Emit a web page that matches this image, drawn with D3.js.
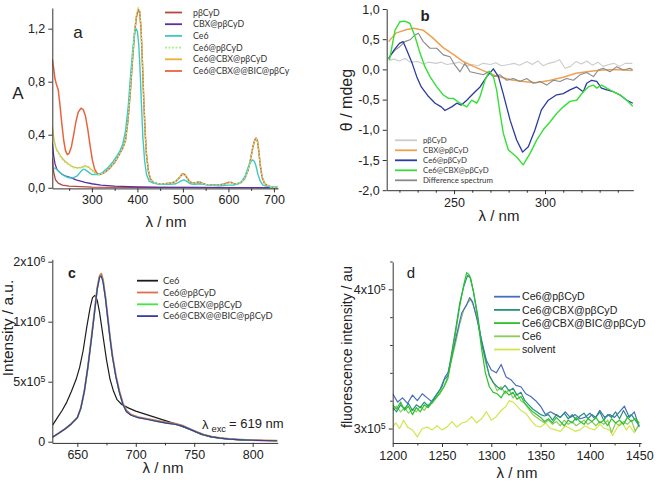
<!DOCTYPE html>
<html><head><meta charset="utf-8">
<script src="https://cdn.jsdelivr.net/npm/d3@7"></script>
<style>body{margin:0;background:#fff} svg{display:block}</style>
</head><body>
<svg id="c" width="661" height="484"></svg>
<script>
// ---------- Panel a: absorption (A vs nm) ----------
const aXTicks = [300, 400, 500, 600, 700];
const aXMinor = [250, 350, 450, 550, 650];
const aYTicks = [0, 0.4, 0.8, 1.2];
const aYLabels = ["0,0", "0,4", "0,8", "1,2"];
const aNames = ["pβCyD", "CBX@pβCyD", "Ce6", "Ce6@pβCyD", "Ce6@CBX@pβCyD", "Ce6@CBX@@BIC@pβCy"];
const aPbCyD = [[213,0.22],[216,0.12],[220,0.06],[226,0.035],[235,0.02],[250,0.012],[300,0.005],[400,0.002],[709,0.0]];
const aCBX = [[213,0.34],[216,0.24],[219,0.18],[223,0.14],[228,0.12],[235,0.10],[245,0.085],[255,0.075],[265,0.06],[275,0.05],[285,0.04],[300,0.03],[320,0.02],[350,0.012],[400,0.006],[450,0.003],[500,0.002],[600,0.001],[709,0.0]];
const aCe6 = [[213,0.15],[217,0.15],[222,0.14],[228,0.12],[235,0.10],[242,0.085],[250,0.075],[256,0.072],[262,0.08],[268,0.09],[275,0.12],[281,0.14],[286,0.135],[292,0.12],[300,0.10],[308,0.10],[316,0.10],[325,0.12],[335,0.15],[345,0.19],[355,0.24],[362,0.28],[368,0.33],[374,0.43],[380,0.62],[385,0.85],[390,1.05],[394,1.17],[397,1.20],[400,1.18],[403,1.08],[406,0.88],[409,0.62],[412,0.38],[416,0.2],[420,0.1],[426,0.05],[435,0.035],[450,0.025],[470,0.025],[485,0.03],[495,0.05],[502,0.06],[508,0.05],[516,0.03],[525,0.025],[535,0.03],[545,0.025],[560,0.02],[580,0.015],[600,0.02],[612,0.02],[622,0.03],[630,0.05],[637,0.09],[643,0.15],[648,0.19],[653,0.21],[657,0.20],[661,0.16],[665,0.1],[670,0.05],[676,0.02],[685,0.01],[700,0.005],[709,0.003]];
const aCe6PbCyD = [[213,0.44],[217,0.35],[221,0.29],[226,0.26],[233,0.22],[241,0.19],[250,0.17],[260,0.15],[270,0.145],[278,0.15],[285,0.16],[291,0.155],[298,0.135],[305,0.115],[312,0.10],[318,0.10],[330,0.12],[340,0.15],[350,0.19],[360,0.25],[368,0.30],[374,0.36],[379,0.5],[384,0.72],[389,0.97],[394,1.19],[398,1.31],[402,1.36],[405,1.34],[408,1.21],[411,0.96],[414,0.67],[417,0.42],[420,0.25],[424,0.13],[428,0.07],[435,0.04],[445,0.03],[460,0.03],[475,0.035],[485,0.05],[493,0.08],[499,0.10],[504,0.10],[509,0.075],[515,0.045],[522,0.035],[530,0.04],[536,0.045],[542,0.035],[550,0.025],[565,0.02],[580,0.02],[592,0.03],[600,0.04],[606,0.04],[612,0.03],[620,0.03],[628,0.04],[636,0.07],[643,0.13],[649,0.22],[654,0.31],[658,0.36],[661,0.37],[664,0.35],[667,0.27],[670,0.17],[674,0.08],[679,0.035],[686,0.015],[695,0.005],[709,0.003]];
const aCe6CBX = [[213,0.46],[217,0.36],[221,0.30],[226,0.27],[233,0.23],[241,0.20],[250,0.175],[260,0.155],[270,0.15],[278,0.155],[285,0.165],[291,0.16],[298,0.14],[305,0.12],[312,0.105],[318,0.10],[330,0.12],[340,0.15],[350,0.19],[360,0.25],[368,0.30],[374,0.36],[379,0.5],[384,0.71],[389,0.96],[394,1.18],[398,1.30],[402,1.35],[405,1.33],[408,1.20],[411,0.95],[414,0.66],[417,0.42],[420,0.25],[424,0.13],[428,0.07],[435,0.04],[445,0.03],[460,0.03],[475,0.035],[485,0.05],[493,0.08],[499,0.10],[504,0.10],[509,0.075],[515,0.045],[522,0.035],[530,0.04],[536,0.045],[542,0.035],[550,0.025],[565,0.02],[580,0.02],[592,0.03],[600,0.04],[606,0.04],[612,0.03],[620,0.03],[628,0.04],[636,0.07],[643,0.13],[649,0.22],[654,0.31],[658,0.36],[661,0.37],[664,0.35],[667,0.27],[670,0.17],[674,0.08],[679,0.035],[686,0.015],[695,0.005],[709,0.003]];
const aBIC = [[213,0.97],[216,0.90],[219,0.82],[222,0.78],[226,0.74],[230,0.62],[234,0.48],[238,0.36],[242,0.28],[246,0.25],[250,0.26],[255,0.31],[260,0.40],[265,0.50],[270,0.57],[276,0.60],[281,0.59],[286,0.54],[291,0.44],[296,0.32],[301,0.21],[306,0.14],[311,0.11],[316,0.10],[322,0.105],[330,0.12],[340,0.15],[350,0.19],[360,0.25],[368,0.30],[374,0.36],[379,0.5],[384,0.70],[389,0.95],[394,1.17],[398,1.29],[402,1.34],[405,1.33],[408,1.20],[411,0.95],[414,0.66],[417,0.42],[420,0.25],[424,0.13],[428,0.07],[435,0.04],[445,0.03],[460,0.03],[475,0.035],[485,0.05],[493,0.08],[499,0.105],[504,0.10],[509,0.075],[515,0.045],[522,0.035],[530,0.04],[536,0.045],[542,0.035],[550,0.025],[565,0.02],[580,0.02],[592,0.03],[600,0.04],[606,0.04],[612,0.03],[620,0.03],[628,0.04],[636,0.07],[643,0.13],[649,0.22],[654,0.31],[658,0.36],[661,0.375],[664,0.35],[667,0.27],[670,0.17],[674,0.08],[679,0.035],[686,0.015],[695,0.005],[709,0.003]];

// ---------- Panel b: CD (theta / mdeg vs nm) ----------
const bXTicks = [250, 300];
const bXMinor = [220, 230, 240, 260, 270, 280, 290, 310, 320, 330, 340];
const bYTicks = [1, 0.5, 0, -0.5, -1, -1.5, -2];
const bYLabels = ["1,0", "0,5", "0,0", "-0,5", "-1,0", "-1,5", "-2,0"];
const bNames = ["pβCyD", "CBX@pβCyD", "Ce6@pβCyD", "Ce6@CBX@pβCyD", "Difference spectrum"];
const bPbCyD = [[214,0.15],[217,0.17],[220,0.14],[223,0.18],[226,0.12],[230,0.13],[233,0.09],[236,0.12],[240,0.10],[243,0.12],[246,0.08],[250,0.10],[253,0.12],[257,0.05],[260,0.08],[263,0.06],[266,0.10],[270,0.08],[273,0.11],[276,0.06],[280,0.08],[283,0.10],[286,0.07],[290,0.13],[293,0.08],[296,0.14],[299,0.06],[302,0.10],[305,0.12],[308,0.16],[311,0.02],[314,0.05],[317,0.13],[320,0.09],[323,0.14],[326,0.07],[329,0.12],[332,0.05],[335,0.08],[338,0.10],[341,0.05],[344,0.10],[348,0.10]];
const bCBX = [[214,0.46],[218,0.60],[224,0.66],[228,0.68],[233,0.65],[238,0.53],[244,0.36],[250,0.24],[255,0.13],[261,0.045],[266,-0.02],[273,-0.11],[281,-0.17],[288,-0.2],[295,-0.22],[303,-0.18],[310,-0.13],[317,-0.065],[325,-0.03],[332,-0.01],[339,0.0],[348,-0.02]];
const bCe6 = [[214,0.18],[217,0.32],[220,0.43],[222,0.46],[224,0.32],[227,0.10],[229.5,-0.12],[232,-0.29],[236,-0.45],[239.6,-0.56],[243,-0.62],[245,-0.68],[248.7,-0.62],[251.5,-0.56],[254,-0.59],[257,-0.51],[260.6,-0.40],[264.3,-0.29],[268,-0.12],[271.6,0.01],[274.4,-0.12],[277,-0.40],[280.8,-0.84],[284.4,-1.17],[287.7,-1.37],[290.8,-1.28],[294.5,-1.0],[298,-0.67],[301.8,-0.51],[306.4,-0.42],[310,-0.40],[313.7,-0.34],[317.4,-0.29],[321,-0.37],[322.9,-0.23],[325.6,-0.18],[328.4,-0.2],[331,-0.31],[334,-0.34],[337.5,-0.37],[341,-0.42],[345,-0.51],[348.2,-0.56]];
const bCe6CBX = [[214.5,0.155],[217.6,0.65],[220.3,0.79],[223,0.8],[225.8,0.76],[228.6,0.54],[231.3,0.27],[234,0.045],[236.8,-0.12],[240.5,-0.29],[244,-0.42],[247,-0.48],[249.6,-0.48],[253.3,-0.56],[257,-0.62],[259.7,-0.51],[262.5,-0.56],[264.3,-0.45],[267,-0.18],[269.4,-0.03],[271.6,-0.12],[273.4,-0.34],[275.3,-0.73],[277.1,-1.06],[279.8,-1.33],[284.4,-1.45],[288,-1.58],[291.8,-1.39],[295.4,-1.17],[299,-1.0],[302.7,-0.87],[306.4,-0.73],[310,-0.62],[313.7,-0.53],[317.4,-0.51],[321,-0.37],[323.8,-0.29],[326.6,-0.26],[328.4,-0.31],[331.1,-0.26],[333.9,-0.31],[337.5,-0.37],[341.2,-0.42],[344.9,-0.51],[348.2,-0.61]];
const bDiff = [[214.5,0.21],[217.6,0.32],[220.3,0.38],[223,0.46],[225.8,0.49],[228.6,0.57],[230.4,0.6],[233.1,0.46],[236.8,0.35],[240.5,0.35],[244.1,0.24],[247.8,0.21],[250.5,0.07],[253.3,-0.04],[256,0.10],[258.8,-0.04],[262.5,-0.065],[266.1,-0.09],[268.9,-0.04],[271.6,-0.12],[275.3,-0.09],[278.9,-0.18],[282.6,-0.15],[286.3,-0.2],[289.9,-0.15],[293.6,-0.23],[297.3,-0.2],[300.9,-0.26],[304.6,-0.18],[308.2,-0.2],[311.9,-0.15],[315.6,-0.18],[319.2,-0.09],[322.9,-0.05],[326.6,-0.12],[329.3,-0.01],[332,0.02],[335.7,-0.04],[339.4,0.045],[343,-0.01],[346.7,0.02],[348.2,-0.01]];

// ---------- Panel c: fluorescence (units of 10^6) ----------
const cXTicks = [650, 700, 750, 800];
const cXMinor = [675, 725, 775];
const cYTicks = [0, 0.5, 1.0, 1.5];
const cYLabels = ["0", "5x10^5", "1x10^6", "2x10^6"];
const cNames = ["Ce6", "Ce6@pβCyD", "Ce6@CBX@pβCyD", "Ce6@CBX@@BIC@pβCyD"];
const cCe6 = [[629,0.14],[633,0.2],[637,0.26],[641,0.33],[645,0.42],[649,0.52],[652,0.62],[655,0.76],[658,0.95],[661,1.12],[663,1.2],[665,1.22],[667,1.18],[669,1.08],[672,0.88],[675,0.68],[678,0.52],[681,0.42],[684,0.35],[688,0.31],[694,0.28],[700,0.255],[708,0.23],[716,0.205],[724,0.18],[732,0.155],[740,0.125],[748,0.095],[756,0.06],[764,0.04],[772,0.03],[780,0.022],[790,0.016],[800,0.012],[810,0.01],[821,0.008]];
const cCe6PbCyD = [[629,0.04],[634,0.07],[640,0.11],[645,0.15],[650,0.2],[653,0.28],[656,0.42],[659,0.62],[662,0.86],[665,1.11],[667,1.28],[669,1.38],[670.5,1.40],[672,1.35],[674,1.21],[676,1.04],[678,0.87],[680,0.72],[683,0.55],[686,0.42],[689,0.32],[692,0.26],[696,0.225],[702,0.205],[710,0.19],[718,0.175],[726,0.16],[734,0.15],[740,0.135],[746,0.108],[752,0.082],[758,0.06],[765,0.042],[772,0.031],[780,0.023],[790,0.017],[800,0.013],[810,0.01],[821,0.008]];
const cCe6CBX = [[629,0.04],[634,0.07],[640,0.11],[645,0.15],[650,0.2],[653,0.28],[656,0.42],[659,0.62],[662,0.85],[665,1.1],[667,1.27],[669,1.37],[670.5,1.385],[672,1.34],[674,1.2],[676,1.03],[678,0.86],[680,0.71],[683,0.54],[686,0.41],[689,0.31],[692,0.25],[696,0.22],[702,0.2],[710,0.185],[718,0.17],[726,0.155],[734,0.145],[740,0.13],[746,0.105],[752,0.08],[758,0.058],[765,0.04],[772,0.03],[780,0.022],[790,0.016],[800,0.012],[810,0.01],[821,0.008]];
const cBIC = [[629,0.04],[634,0.07],[640,0.11],[645,0.15],[650,0.2],[653,0.28],[656,0.42],[659,0.62],[662,0.85],[665,1.1],[667,1.27],[669,1.37],[670.5,1.38],[672,1.33],[674,1.2],[676,1.03],[678,0.86],[680,0.71],[683,0.54],[686,0.41],[689,0.31],[692,0.25],[696,0.22],[702,0.2],[710,0.185],[718,0.17],[726,0.155],[734,0.145],[740,0.13],[746,0.105],[752,0.08],[758,0.058],[765,0.04],[772,0.03],[780,0.022],[790,0.016],[800,0.012],[810,0.01],[821,0.008]];

// ---------- Panel d: singlet oxygen emission (units of 10^5) ----------
const dXTicks = [1200, 1250, 1300, 1350, 1400, 1450];
const dXMinor = [1225, 1275, 1325, 1375, 1425];
const dYTicks = [3, 4];
const dYMinor = [3.2, 3.4, 3.6, 3.8, 4.2];
const dYLabels = ["3x10^5", "4x10^5"];
const dNames = ["Ce6@pβCyD", "Ce6@CBX@pβCyD", "Ce6@CBX@BIC@pβCyD", "Ce6", "solvent"];
const dCe6PbCyD = [[1200,3.25],[1205,3.19],[1210,3.22],[1215,3.18],[1220,3.24],[1225,3.2],[1230,3.25],[1235,3.22],[1240,3.19],[1245,3.25],[1250,3.3],[1253,3.37],[1256,3.4],[1260,3.52],[1265,3.68],[1270,3.83],[1275,3.89],[1278,3.94],[1281,3.91],[1285,3.8],[1290,3.64],[1295,3.49],[1300,3.42],[1305,3.4],[1310,3.46],[1315,3.37],[1320,3.35],[1325,3.31],[1330,3.3],[1335,3.25],[1340,3.23],[1345,3.2],[1350,3.16],[1355,3.1],[1360,3.12],[1365,3.1],[1370,3.08],[1375,3.12],[1380,3.08],[1385,3.1],[1390,3.07],[1395,3.08],[1400,3.11],[1405,3.07],[1410,3.13],[1415,3.08],[1420,3.1],[1425,3.08],[1430,3.12],[1435,3.16],[1440,3.08],[1445,3.12],[1450,3.01]];
const dCe6CBX = [[1200,3.15],[1204,3.12],[1208,3.17],[1212,3.14],[1216,3.18],[1220,3.13],[1224,3.17],[1228,3.15],[1232,3.19],[1236,3.16],[1240,3.2],[1244,3.24],[1248,3.28],[1252,3.35],[1256,3.38],[1260,3.55],[1264,3.72],[1268,3.9],[1272,4.02],[1276,4.1],[1279,4.08],[1282,3.98],[1286,3.82],[1290,3.62],[1294,3.5],[1298,3.38],[1302,3.33],[1306,3.3],[1310,3.28],[1314,3.31],[1318,3.27],[1322,3.29],[1326,3.24],[1330,3.26],[1334,3.2],[1338,3.17],[1342,3.14],[1346,3.12],[1350,3.1],[1354,3.09],[1358,3.1],[1362,3.06],[1366,3.1],[1370,3.08],[1374,3.11],[1378,3.07],[1382,3.1],[1386,3.06],[1390,3.09],[1394,3.11],[1398,3.07],[1402,3.1],[1406,3.08],[1410,3.12],[1414,3.06],[1418,3.1],[1422,3.08],[1426,3.12],[1430,3.07],[1434,3.13],[1438,3.08],[1442,3.1],[1446,3.06],[1450,3.02]];
const dBIC = [[1200,3.17],[1204,3.14],[1208,3.19],[1212,3.13],[1216,3.16],[1220,3.1],[1224,3.15],[1228,3.12],[1232,3.17],[1236,3.15],[1240,3.19],[1244,3.22],[1248,3.26],[1252,3.3],[1256,3.36],[1260,3.52],[1264,3.7],[1268,3.88],[1272,4.03],[1275,4.12],[1278,4.1],[1282,3.98],[1286,3.8],[1290,3.58],[1294,3.4],[1298,3.3],[1302,3.26],[1306,3.25],[1310,3.22],[1314,3.27],[1318,3.24],[1322,3.26],[1326,3.21],[1330,3.23],[1334,3.18],[1338,3.15],[1342,3.12],[1346,3.1],[1350,3.08],[1354,3.05],[1358,3.07],[1362,3.04],[1366,3.08],[1370,3.05],[1374,3.02],[1378,3.06],[1382,3.04],[1386,3.08],[1390,3.05],[1394,3.03],[1398,3.07],[1402,3.05],[1406,3.08],[1410,3.04],[1414,3.06],[1418,3.02],[1422,3.07],[1426,3.04],[1430,3.06],[1434,3.03],[1438,3.08],[1442,3.05],[1446,3.07],[1450,3.04]];
const dCe6 = [[1200,3.13],[1204,3.16],[1208,3.12],[1212,3.15],[1216,3.11],[1220,3.14],[1224,3.12],[1228,3.16],[1232,3.13],[1236,3.17],[1240,3.18],[1244,3.22],[1248,3.25],[1252,3.3],[1256,3.38],[1260,3.5],[1264,3.62],[1268,3.75],[1272,3.85],[1276,3.9],[1279,3.93],[1282,3.88],[1286,3.78],[1290,3.62],[1294,3.48],[1298,3.38],[1302,3.33],[1306,3.27],[1310,3.3],[1314,3.25],[1318,3.28],[1322,3.22],[1326,3.25],[1330,3.2],[1334,3.18],[1338,3.14],[1342,3.1],[1346,3.08],[1350,3.06],[1354,3.04],[1358,3.06],[1362,3.03],[1366,3.05],[1370,3.02],[1374,3.06],[1378,3.03],[1382,3.05],[1386,3.02],[1390,3.04],[1394,3.06],[1398,3.03],[1402,3.05],[1406,3.02],[1410,3.05],[1414,3.03],[1418,3.06],[1422,2.97],[1426,3.04],[1430,3.02],[1434,3.05],[1438,3.03],[1442,3.06],[1446,2.98],[1450,3.03]];
const dSolvent = [[1200,3.01],[1203,3.04],[1207,3.0],[1211,3.06],[1215,3.01],[1220,2.99],[1225,2.94],[1230,3.0],[1235,3.01],[1240,2.99],[1245,3.02],[1250,2.99],[1255,3.01],[1260,3.05],[1265,3.01],[1270,3.04],[1275,3.05],[1280,3.085],[1285,3.04],[1290,3.07],[1295,3.12],[1300,3.06],[1305,3.085],[1310,3.13],[1315,3.16],[1318,3.2],[1322,3.19],[1325,3.17],[1330,3.13],[1335,3.11],[1340,3.06],[1345,3.02],[1350,3.01],[1355,3.04],[1360,3.0],[1365,2.99],[1370,2.98],[1375,3.02],[1380,3.0],[1385,2.98],[1390,2.99],[1395,3.02],[1400,3.0],[1405,2.99],[1410,3.03],[1415,3.0],[1420,2.99],[1423,2.95],[1428,3.01],[1432,3.05],[1437,2.99],[1440,3.02],[1445,2.97],[1450,3.04]];

const svg = d3.select("#c");
const SANS = "'Liberation Sans', Arial, sans-serif";
const LEG = "Lato, 'Liberation Sans', sans-serif";

function setLabel(sel, label) {
  sel.text(null);
  const parts = String(label).split("^");
  sel.append("tspan").text(parts[0]);
  if (parts.length > 1) sel.append("tspan").attr("dy", "-0.45em").attr("font-size", "0.7em").text(parts[1]);
}

function panel(cfg) {
  const x = d3.scaleLinear().domain(cfg.xd).range(cfg.xr);
  const y = d3.scaleLinear().domain(cfg.yd).range(cfg.yr);
  const g = svg.append("g");
  const clipId = "clip" + cfg.id;
  g.append("clipPath").attr("id", clipId).append("rect")
    .attr("x", cfg.xr[0]).attr("y", cfg.yr[1] - 2)
    .attr("width", cfg.xr[1] - cfg.xr[0]).attr("height", cfg.yr[0] - cfg.yr[1] + 2);
  const line = d3.line().x(d => x(d[0])).y(d => y(d[1]));
  const lines = g.append("g").attr("clip-path", `url(#${clipId})`);
  cfg.series.forEach(s => {
    lines.append("path").datum(s.data).attr("fill", "none").attr("stroke", s.color)
      .attr("stroke-width", s.w || 1.3).attr("stroke-dasharray", s.dash || null)
      .attr("stroke-linejoin", "round").attr("d", line);
  });
  if (cfg.xm) g.append("g").attr("transform", `translate(0,${cfg.yr[0]})`)
    .call(d3.axisBottom(x).tickValues(cfg.xm).tickSize(2.5).tickSizeOuter(0).tickFormat(""))
    .call(a => a.select(".domain").remove());
  if (cfg.ym) g.append("g").attr("transform", `translate(${cfg.xr[0]},0)`)
    .call(d3.axisLeft(y).tickValues(cfg.ym).tickSize(2.5).tickSizeOuter(0).tickFormat(""))
    .call(a => a.select(".domain").remove());
  const xa = g.append("g").attr("transform", `translate(0,${cfg.yr[0]})`)
    .call(d3.axisBottom(x).tickValues(cfg.xt).tickSize(4).tickSizeOuter(0).tickPadding(cfg.xpad || 3));
  xa.selectAll("text").each(function (d, i) { setLabel(d3.select(this), cfg.xl ? cfg.xl[i] : d); });
  const ya = g.append("g").attr("transform", `translate(${cfg.xr[0]},0)`)
    .call(d3.axisLeft(y).tickValues(cfg.yt).tickSize(4).tickSizeOuter(0).tickPadding(cfg.ypad || 3));
  ya.selectAll("text").each(function (d, i) { setLabel(d3.select(this), cfg.yl ? cfg.yl[i] : d); });
  [xa, ya].forEach(a => {
    a.attr("font-family", SANS).attr("font-size", cfg.tickFont || 12.5).attr("color", "#222");
    a.selectAll("text").attr("fill", "#222");
  });
  g.selectAll(".domain").attr("stroke", "#333");
  g.selectAll(".tick line").attr("stroke", "#333");
  const L = cfg.legend;
  cfg.series.slice().sort((p, q) => p.li - q.li).forEach((s, i) => {
    const yy = L.y0 + i * L.dy;
    g.append("line").attr("x1", L.x0).attr("x2", L.x1).attr("y1", yy).attr("y2", yy)
      .attr("stroke", s.color).attr("stroke-width", s.lw || 1.8).attr("stroke-dasharray", s.dash || null);
    g.append("text").attr("x", L.tx).attr("y", yy).attr("dy", "0.35em")
      .attr("font-family", L.font).attr("font-size", L.size).attr("fill", L.fill || "#222").text(s.name);
  });
  return { g, x, y };
}

panel({
  id: "a", xd: [213, 709], xr: [52.3, 278], yd: [-0.005, 1.356], yr: [188.4, 8],
  xt: aXTicks, xm: aXMinor, yt: aYTicks, yl: aYLabels,
  series: [
    { name: aNames[0], data: aPbCyD, color: "#b5473c", li: 0 },
    { name: aNames[1], data: aCBX, color: "#5a2fa3", li: 1 },
    { name: aNames[4], data: aCe6CBX, color: "#e3b43a", li: 4 },
    { name: aNames[5], data: aBIC, color: "#e8643e", li: 5, w: 1.5 },
    { name: aNames[2], data: aCe6, color: "#3fc9c3", li: 2, w: 1.4 },
    { name: aNames[3], data: aCe6PbCyD, color: "#a8f08c", li: 3, dash: "2,1.5" }
  ],
  legend: { x0: 165, x1: 182, tx: 193, y0: 12.5, dy: 11.7, font: LEG, size: 8.8, fill: "#333" }
});
panel({
  id: "b", xd: [213, 348.5], xr: [386.7, 633.3], yd: [-2, 1], yr: [190.2, 9],
  xt: bXTicks, xm: bXMinor, yt: bYTicks, yl: bYLabels, xpad: 4,
  series: [
    { name: bNames[0], data: bPbCyD, color: "#cccccc", li: 0, w: 1.1 },
    { name: bNames[1], data: bCBX, color: "#f0a050", li: 1, w: 1.5 },
    { name: bNames[4], data: bDiff, color: "#8a8a8a", li: 4, w: 1.1 },
    { name: bNames[2], data: bCe6, color: "#2b3b9e", li: 2, w: 1.3 },
    { name: bNames[3], data: bCe6CBX, color: "#35e035", li: 3, w: 1.4 }
  ],
  legend: { x0: 395, x1: 417, tx: 423, y0: 140.3, dy: 10, font: LEG, size: 7.8, fill: "#333" }
});
panel({
  id: "c", xd: [628.6, 821.4], xr: [52.3, 277.7], yd: [-0.01, 1.52], yr: [442.9, 259.3],
  xt: cXTicks, xm: cXMinor, yt: cYTicks, yl: cYLabels,
  series: [
    { name: cNames[0], data: cCe6, color: "#1c1c1c", li: 0, w: 1.2 },
    { name: cNames[1], data: cCe6PbCyD, color: "#d8714c", li: 1, w: 1.8 },
    { name: cNames[2], data: cCe6CBX, color: "#42e842", li: 2, w: 1.2 },
    { name: cNames[3], data: cBIC, color: "#3a3aa8", li: 3, w: 1.2 }
  ],
  legend: { x0: 137, x1: 158, tx: 163, y0: 280.7, dy: 11.8, font: LEG, size: 9.4, fill: "#333" }
});
panel({
  id: "d", xd: [1200, 1452], xr: [392.7, 641.2], yd: [2.896, 4.197], yr: [443, 261.9],
  xt: dXTicks, xm: dXMinor, yt: dYTicks, ym: dYMinor, yl: dYLabels, xpad: 4,
  series: [
    { name: dNames[4], data: dSolvent, color: "#d2e64c", li: 4, w: 1.2 },
    { name: dNames[3], data: dCe6, color: "#8bcb5c", li: 3, w: 1.2 },
    { name: dNames[0], data: dCe6PbCyD, color: "#4a6cc0", li: 0, w: 1.2 },
    { name: dNames[1], data: dCe6CBX, color: "#24937a", li: 1, w: 1.2 },
    { name: dNames[2], data: dBIC, color: "#2ac22a", li: 2, w: 1.2 }
  ],
  legend: { x0: 494, x1: 520, tx: 522, y0: 296.7, dy: 13.2, font: SANS, size: 10.6, fill: "#222" }
});

function txt(x, y, s, size, opts = {}) {
  const t = svg.append("text").attr("x", x).attr("y", y).attr("font-family", opts.font || SANS)
    .attr("font-size", size).attr("fill", "#222").attr("text-anchor", opts.anchor || "middle")
    .attr("font-weight", opts.bold ? "bold" : null);
  if (opts.rot) t.attr("transform", `rotate(-90,${x},${y})`);
  t.text(s);
  return t;
}
txt(18, 99, "A", 17);
txt(166, 227, "λ / nm", 15);
txt(499, 221, "λ / nm", 15);
txt(163, 473, "λ / nm", 15);
txt(517, 478, "λ / nm", 15);
txt(352, 100, "θ / mdeg", 16, { rot: true });
txt(13, 328, "Intensity / a.u.", 15.5, { rot: true });
txt(352, 347, "fluorescence intensity / au", 14, { rot: true });
txt(78, 38, "a", 17);
txt(425, 21, "b", 15, { bold: true });
txt(72, 278, "c", 14, { bold: true });
txt(411, 278, "d", 15);
const ann = svg.append("text").attr("x", 202).attr("y", 429).attr("font-family", SANS)
  .attr("font-size", 13).attr("fill", "#222");
ann.append("tspan").text("λ");
ann.append("tspan").attr("dy", "0.3em").attr("font-size", "0.72em").attr("dx", "3").text("exc");
ann.append("tspan").attr("dy", "-0.3em").attr("dx", "3").text("= 619 nm");
</script>
</body></html>
